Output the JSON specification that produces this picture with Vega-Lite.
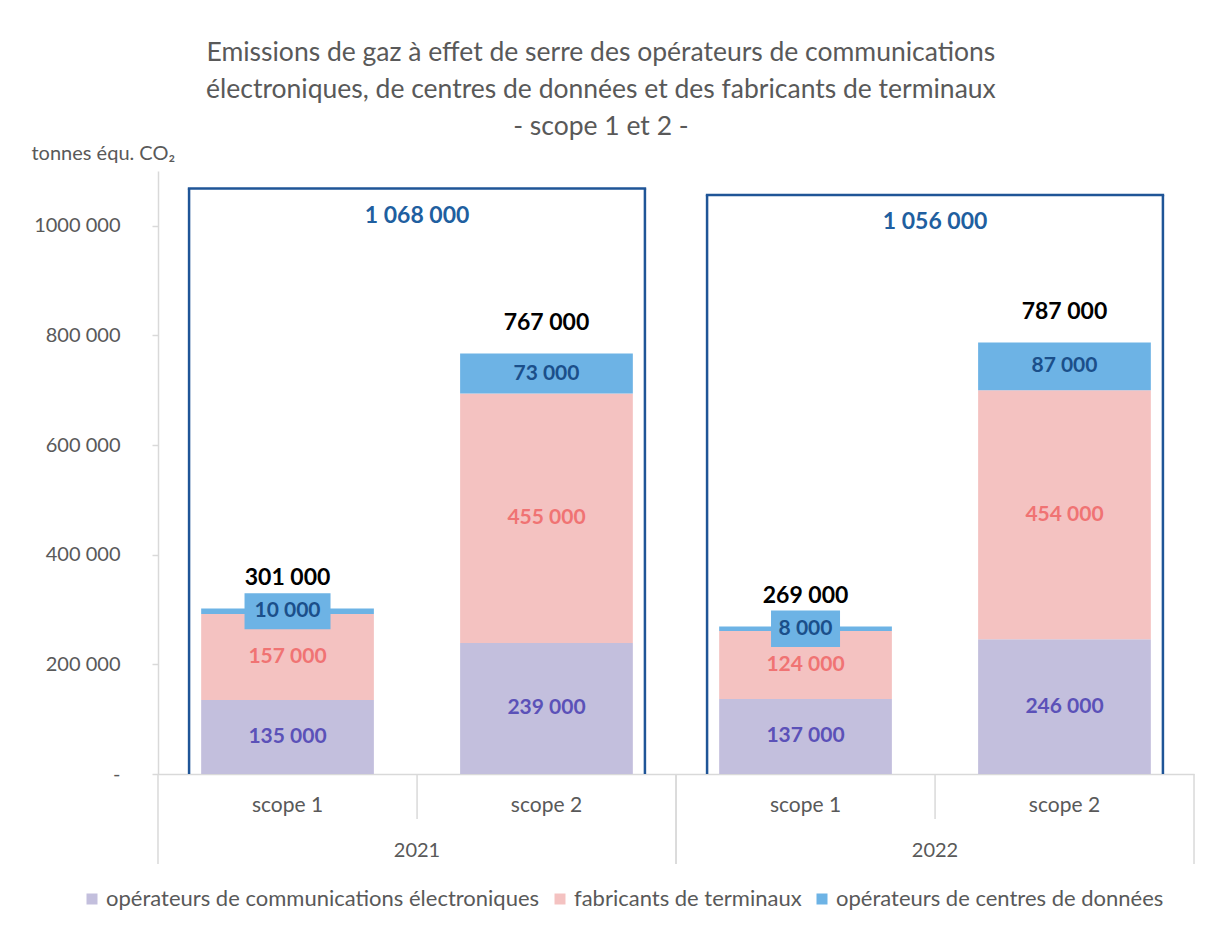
{
  "$schema": "https://vega.github.io/schema/vega-lite/v6.json",
  "padding": {"left": 31, "top": 39, "right": 10, "bottom": 10},
  "config": {
    "locale": {"number": {"decimal": ",", "thousands": " ", "grouping": [3], "currency": ["", " €"]}},
    "font": "Lato",
    "view": {"stroke": null},
    "legend": {"orient": "none", "legendX": -77, "legendY": 717, "direction": "horizontal", "title": null, "symbolType": "square", "symbolSize": 121, "symbolStrokeWidth": 0, "labelFontSize": 22, "labelColor": "#595959", "columnPadding": 9, "labelOffset": 3, "labelLimit": 700}
  },
  "title": {
    "text": ["Emissions de gaz à effet de serre des opérateurs de communications", "électroniques, de centres de données et des fabricants de terminaux", "- scope 1 et 2 -"],
    "fontSize": 26.5, "font": "Lato", "fontWeight": "normal", "color": "#595959", "lineHeight": 37, "anchor": "middle", "offset": 3, "dx": -12
  },
  "data": {"values": [
    {"type": "seg", "annee": "2021", "scope": "scope 1", "categorie": "opérateurs de communications électroniques", "ordre": 1, "valeur": 135000},
    {"type": "seg", "annee": "2021", "scope": "scope 1", "categorie": "fabricants de terminaux", "ordre": 2, "valeur": 157000},
    {"type": "seg", "annee": "2021", "scope": "scope 1", "categorie": "opérateurs de centres de données", "ordre": 3, "valeur": 10000},
    {"type": "seg", "annee": "2021", "scope": "scope 2", "categorie": "opérateurs de communications électroniques", "ordre": 1, "valeur": 239000},
    {"type": "seg", "annee": "2021", "scope": "scope 2", "categorie": "fabricants de terminaux", "ordre": 2, "valeur": 455000},
    {"type": "seg", "annee": "2021", "scope": "scope 2", "categorie": "opérateurs de centres de données", "ordre": 3, "valeur": 73000},
    {"type": "seg", "annee": "2022", "scope": "scope 1", "categorie": "opérateurs de communications électroniques", "ordre": 1, "valeur": 137000},
    {"type": "seg", "annee": "2022", "scope": "scope 1", "categorie": "fabricants de terminaux", "ordre": 2, "valeur": 124000},
    {"type": "seg", "annee": "2022", "scope": "scope 1", "categorie": "opérateurs de centres de données", "ordre": 3, "valeur": 8000},
    {"type": "seg", "annee": "2022", "scope": "scope 2", "categorie": "opérateurs de communications électroniques", "ordre": 1, "valeur": 246000},
    {"type": "seg", "annee": "2022", "scope": "scope 2", "categorie": "fabricants de terminaux", "ordre": 2, "valeur": 454000},
    {"type": "seg", "annee": "2022", "scope": "scope 2", "categorie": "opérateurs de centres de données", "ordre": 3, "valeur": 87000},
    {"type": "total", "annee": "2021", "scope": "scope 1", "valeur": 301000},
    {"type": "total", "annee": "2021", "scope": "scope 2", "valeur": 767000},
    {"type": "total", "annee": "2022", "scope": "scope 1", "valeur": 269000},
    {"type": "total", "annee": "2022", "scope": "scope 2", "valeur": 787000},
    {"type": "annee", "annee": "2021", "scope": "scope 1", "scope_fin": "scope 2", "base": 0, "valeur": 1068000},
    {"type": "annee", "annee": "2022", "scope": "scope 1", "scope_fin": "scope 2", "base": 0, "valeur": 1056000}
  ]},
  "facet": {"column": {"field": "annee", "type": "nominal", "header": {"title": null, "labelOrient": "bottom", "labelFontSize": 20, "labelColor": "#595959", "labelPadding": 26, "labelFont": "Lato"}}},
  "spacing": {"column": 0},
  "bounds": "flush",
  "spec": {
    "width": 518,
    "height": 603,
    "layer": [
      {
        "transform": [{"filter": "datum.type === 'seg'"}],
        "mark": {"type": "bar"},
        "encoding": {
          "x": {"field": "scope", "type": "nominal", "scale": {"domain": ["scope 1", "scope 2"], "paddingInner": 0.333, "paddingOuter": 0.1667},
            "axis": {"title": null, "labelFontSize": 21, "labelColor": "#595959", "labelAngle": 0, "ticks": false, "tickSize": 0, "domainColor": "#D9D9D9", "domainWidth": 1.5, "labelPadding": 20}},
          "y": {"field": "valeur", "type": "quantitative", "stack": "zero", "scale": {"domain": [0, 1100000], "nice": false},
            "axis": {"title": "tonnes équ. CO₂", "titleAngle": 0, "titleAlign": "left", "titleBaseline": "middle", "titleX": -127, "titleY": -18, "titleFontSize": 20, "titleFontWeight": "normal", "titleColor": "#595959",
              "values": [0, 200000, 400000, 600000, 800000, 1000000], "labelExpr": "datum.value === 0 ? '-' : (datum.value === 1000000 ? '1000 000' : datum.label)",
              "labelFontSize": 20, "labelColor": "#595959", "labelPadding": 32, "tickSize": 6, "tickColor": "#D9D9D9", "tickWidth": 1.5, "domainColor": "#D9D9D9", "domainWidth": 1.5, "grid": false}},
          "color": {"field": "categorie", "type": "nominal",
            "scale": {"domain": ["opérateurs de communications électroniques", "fabricants de terminaux", "opérateurs de centres de données"], "range": ["#C3BFDD", "#F4C2C1", "#6DB3E5"]}},
          "order": {"field": "ordre", "type": "quantitative"}
        }
      },
      {
        "transform": [{"filter": "datum.type === 'seg'"}],
        "mark": {"type": "point", "filled": true, "color": "#6DB3E5", "strokeWidth": 0},
        "encoding": {
          "x": {"field": "scope", "type": "nominal"},
          "y": {"field": "valeur", "type": "quantitative", "stack": "zero", "bandPosition": 0.5},
          "detail": {"field": "categorie", "type": "nominal"},
          "order": {"field": "ordre", "type": "quantitative"},
          "opacity": {"condition": {"test": "datum.scope === 'scope 1' && datum.ordre === 3", "value": 1}, "value": 0},
          "shape": {"condition": {"test": "datum.annee === '2021'", "value": "M-1,-0.42H1V0.42H-1Z"}, "value": "M-1,-0.53H1V0.53H-1Z"},
          "size": {"condition": {"test": "datum.annee === '2021'", "value": 7396}, "value": 4761}
        }
      },
      {
        "transform": [{"filter": "datum.type === 'seg'"}],
        "mark": {"type": "text", "fontSize": 21, "fontWeight": "bold", "baseline": "middle"},
        "encoding": {
          "x": {"field": "scope", "type": "nominal"},
          "y": {"field": "valeur", "type": "quantitative", "stack": "zero", "bandPosition": 0.5},
          "detail": {"field": "categorie", "type": "nominal"},
          "order": {"field": "ordre", "type": "quantitative"},
          "text": {"field": "valeur", "type": "quantitative", "format": ",d"},
          "color": {"condition": [{"test": "datum.ordre === 1", "value": "#5B51B8"}, {"test": "datum.ordre === 2", "value": "#F07373"}], "value": "#1B4F8A"}
        }
      },
      {
        "transform": [{"filter": "datum.type === 'total'"}],
        "mark": {"type": "text", "fontSize": 23, "fontWeight": "bold", "baseline": "middle", "color": "#000000", "dy": -31},
        "encoding": {
          "x": {"field": "scope", "type": "nominal"},
          "y": {"field": "valeur", "type": "quantitative"},
          "text": {"field": "valeur", "type": "quantitative", "format": ",d"}
        }
      },
      {
        "transform": [{"filter": "datum.type === 'annee'"}],
        "mark": {"type": "rule", "color": "#D9D9D9", "strokeWidth": 1.5, "y2Offset": 90},
        "encoding": {
          "x": {"field": "scope", "type": "nominal", "bandPosition": -0.25},
          "y": {"field": "base", "type": "quantitative"},
          "y2": {"field": "base"}
        }
      },
      {
        "transform": [{"filter": "datum.type === 'annee'"}],
        "mark": {"type": "rule", "color": "#D9D9D9", "strokeWidth": 1.5, "y2Offset": 90},
        "encoding": {
          "x": {"field": "scope_fin", "type": "nominal", "bandPosition": 1.25},
          "y": {"field": "base", "type": "quantitative"},
          "y2": {"field": "base"}
        }
      },
      {
        "transform": [{"filter": "datum.type === 'annee'"}],
        "mark": {"type": "rule", "color": "#D9D9D9", "strokeWidth": 1.5, "y2Offset": 45},
        "encoding": {
          "x": {"field": "scope", "type": "nominal", "bandPosition": 1.25},
          "y": {"field": "base", "type": "quantitative"},
          "y2": {"field": "base"}
        }
      },
      {
        "transform": [{"filter": "datum.type === 'annee'"}],
        "mark": {"type": "rule", "color": "#1F5597", "strokeWidth": 2.5},
        "encoding": {
          "x": {"field": "scope", "type": "nominal", "bandPosition": -0.07},
          "y": {"field": "base", "type": "quantitative"},
          "y2": {"field": "valeur"}
        }
      },
      {
        "transform": [{"filter": "datum.type === 'annee'"}],
        "mark": {"type": "rule", "color": "#1F5597", "strokeWidth": 2.5},
        "encoding": {
          "x": {"field": "scope_fin", "type": "nominal", "bandPosition": 1.07},
          "y": {"field": "base", "type": "quantitative"},
          "y2": {"field": "valeur"}
        }
      },
      {
        "transform": [{"filter": "datum.type === 'annee'"}],
        "mark": {"type": "rule", "color": "#1F5597", "strokeWidth": 2.5, "strokeCap": "square"},
        "encoding": {
          "x": {"field": "scope", "type": "nominal", "bandPosition": -0.07},
          "x2": {"field": "scope_fin", "bandPosition": 1.07},
          "y": {"field": "valeur", "type": "quantitative"}
        }
      },
      {
        "transform": [{"filter": "datum.type === 'annee'"}],
        "mark": {"type": "text", "fontSize": 23, "fontWeight": "bold", "baseline": "middle", "color": "#1F5FA0", "dy": 27},
        "encoding": {
          "x": {"field": "scope", "type": "nominal", "bandPosition": 1.25},
          "y": {"field": "valeur", "type": "quantitative"},
          "text": {"field": "valeur", "type": "quantitative", "format": ",d"}
        }
      }
    ]
  }
}
